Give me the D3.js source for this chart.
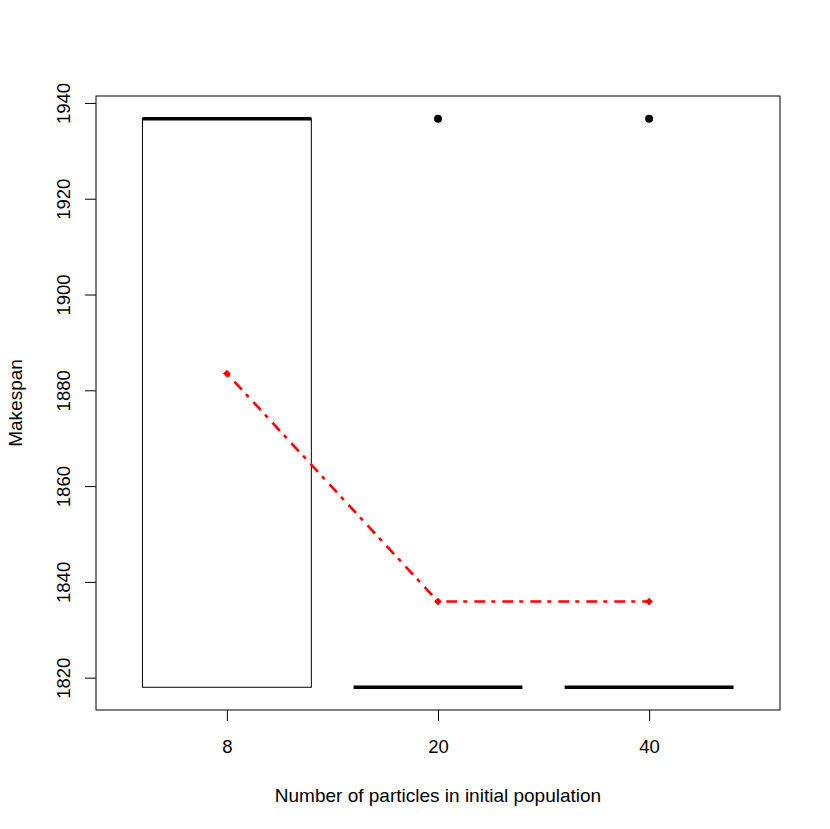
<!DOCTYPE html>
<html>
<head>
<meta charset="utf-8">
<script src="https://cdn.jsdelivr.net/npm/d3@7"></script>
<style>
  body { margin: 0; background: #fff; }
  text { font-family: "Liberation Sans", Arial, sans-serif; fill: #000; }
</style>
</head>
<body>
<div id="chart"></div>
<script>
// categories and box stats
var groups = ["8", "20", "40"];
var q1 = [1818, 1818, 1818];
var median = [1936.7, 1818, 1818];
var q3 = [1936.7, 1818, 1818];
var outliers = [[], [1936.7], [1936.7]];
var means = [1883.5, 1835.9, 1835.9];
var yTicks = [1820, 1840, 1860, 1880, 1900, 1920, 1940];

var margin = { top: 96, right: 50, bottom: 119, left: 96 },
    width = 830 - margin.left - margin.right,
    height = 829 - margin.top - margin.bottom;

var svg = d3.select("#chart").append("svg")
    .attr("width", 830)
    .attr("height", 829)
  .append("g")
    .attr("transform", "translate(" + margin.left + "," + margin.top + ")");

var idx = groups.map(function(d, i) { return i + 1; });
var x = d3.scaleLinear().domain([0.38, 3.62]).range([0, width]);
var y = d3.scaleLinear().domain([1813.25, 1941.45]).range([height, 0]);
var boxW = x(1.4) - x(1);

// y axis
var yAxis = svg.append("g")
    .call(d3.axisLeft(y).tickValues(yTicks).tickSize(11).tickFormat(d3.format("d")));
yAxis.select(".domain").remove();
yAxis.selectAll("line").attr("stroke", "#000");
yAxis.selectAll(".tick text")
    .attr("transform", "rotate(-90)")
    .attr("x", 0)
    .attr("y", -26)
    .attr("dy", "0")
    .attr("text-anchor", "middle")
    .style("font-size", "18.5px");

// x axis
var xAxis = svg.append("g")
    .attr("transform", "translate(0," + height + ")")
    .call(d3.axisBottom(x).tickValues(idx).tickSize(11)
        .tickFormat(function(d) { return groups[d - 1]; }));
xAxis.select(".domain").remove();
xAxis.selectAll("line").attr("stroke", "#000");
xAxis.selectAll("text")
    .attr("y", 43)
    .attr("dy", "0")
    .style("font-size", "18.5px");

// frame
svg.append("rect")
    .attr("width", width)
    .attr("height", height)
    .attr("fill", "none")
    .attr("stroke", "#000")
    .attr("stroke-width", 1);

// boxes
var box = svg.selectAll(".box")
    .data(groups)
    .enter().append("g")
    .attr("class", "box");

box.append("rect")
    .attr("x", function(d, i) { return x(i + 1) - boxW; })
    .attr("y", function(d, i) { return y(q3[i]); })
    .attr("width", boxW * 2)
    .attr("height", function(d, i) { return y(q1[i]) - y(q3[i]); })
    .attr("fill", "none")
    .attr("stroke", "#000")
    .attr("stroke-width", 1);

box.append("line")
    .attr("x1", function(d, i) { return x(i + 1) - boxW; })
    .attr("x2", function(d, i) { return x(i + 1) + boxW; })
    .attr("y1", function(d, i) { return y(median[i]); })
    .attr("y2", function(d, i) { return y(median[i]); })
    .attr("stroke", "#000")
    .attr("stroke-width", 3.5);

// outliers
outliers.forEach(function(o, i) {
    svg.selectAll(".out" + i)
        .data(o)
        .enter().append("circle")
        .attr("cx", x(i + 1))
        .attr("cy", function(d) { return y(d); })
        .attr("r", 4)
        .attr("fill", "#000");
});

// mean line
svg.append("path")
    .datum(means)
    .attr("fill", "none")
    .attr("stroke", "#ff0000")
    .attr("stroke-width", 2.6)
    .attr("stroke-dasharray", "4,7,11,6")
    .attr("d", d3.line()
        .x(function(d, i) { return x(i + 1); })
        .y(function(d) { return y(d); }));

svg.selectAll(".mean")
    .data(means)
    .enter().append("path")
    .attr("class", "mean")
    .attr("transform", function(d, i) { return "translate(" + x(i + 1) + "," + y(d) + ")"; })
    .attr("d", d3.symbol().type(d3.symbolDiamond2).size(38))
    .attr("fill", "#ff0000");

// axis titles
svg.append("text")
    .attr("x", width / 2)
    .attr("y", height + 92)
    .attr("text-anchor", "middle")
    .style("font-size", "19px")
    .text("Number of particles in initial population");

svg.append("text")
    .attr("transform", "rotate(-90)")
    .attr("x", -height / 2)
    .attr("y", -74)
    .attr("text-anchor", "middle")
    .style("font-size", "19px")
    .text("Makespan");
</script>
</body>
</html>
